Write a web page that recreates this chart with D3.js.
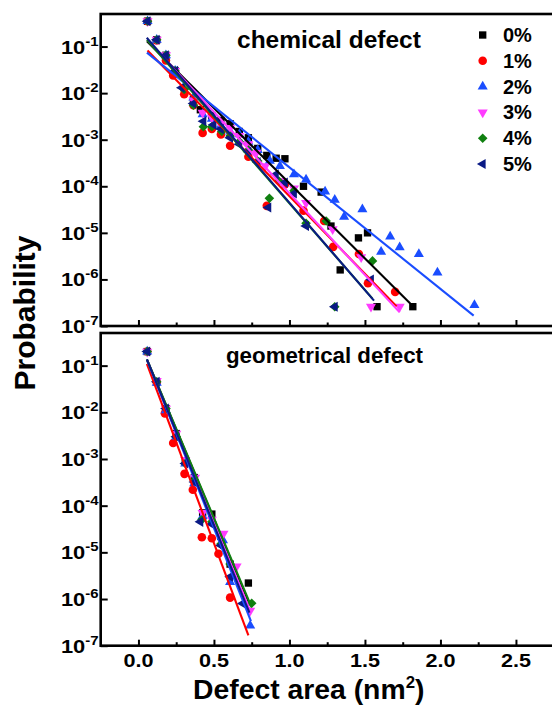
<!DOCTYPE html>
<html>
<head>
<meta charset="utf-8">
<script src="https://cdn.jsdelivr.net/npm/d3@7"></script>
<style>
  body { margin: 0; background: #fff; }
  svg { display: block; }
  text { font-family: "Liberation Sans", Arial, sans-serif; font-weight: bold; fill: #000; }
</style>
</head>
<body>
<svg id="chart" width="552" height="705"></svg>
<script>
// ---- series definitions ----
const seriesLabels = ["0%", "1%", "2%", "3%", "4%", "5%"];
const xTickValues = [0, 0.5, 1, 1.5, 2, 2.5];
const xTickLabels = ["0.0", "0.5", "1.0", "1.5", "2.0", "2.5"];
const xMinorTicks = [0.25, 0.75, 1.25, 1.75, 2.25];
const yTickExponents = [-1, -2, -3, -4, -5, -6, -7];

// chemical defect: [area (nm^2), probability]
const chem0 = [[0.06,0.35],[0.121,0.14],[0.182,0.065],[0.243,0.03],[0.303,0.013],[0.364,0.0072],[0.41,0.0044],[0.486,0.0033],[0.546,0.0026],[0.607,0.0022],[0.668,0.0015],[0.728,0.0011],[0.79,6.5e-4],[0.85,4.6e-4],[0.912,4.0e-4],[0.97,3.9e-4],[1.093,1.0e-4],[1.21,7.5e-5],[1.275,1.4e-5],[1.336,1.6e-6],[1.457,7.8e-6],[1.517,1.0e-5],[1.58,2.6e-7],[1.817,2.6e-7]];
const chem1 = [[0.06,0.35],[0.121,0.135],[0.182,0.05],[0.23,0.024],[0.303,0.0095],[0.364,0.0055],[0.425,0.0014],[0.486,0.0017],[0.546,0.0013],[0.607,7.4e-4],[0.728,4.3e-4],[0.85,3.8e-5],[0.97,1.1e-4],[1.093,3.0e-5],[1.23,1.8e-5],[1.29,5.0e-6],[1.46,3.5e-6],[1.52,8.3e-7],[1.70,5.4e-7]];
const chem2 = [[0.06,0.35],[0.121,0.14],[0.182,0.065],[0.243,0.03],[0.303,0.014],[0.364,0.008],[0.425,0.0035],[0.486,0.0028],[0.546,0.002],[0.607,0.0015],[0.668,0.0013],[0.728,9e-4],[0.79,6e-4],[0.87,3.5e-4],[0.937,2.7e-4],[1.03,1.8e-4],[1.11,1.4e-4],[1.236,7.7e-5],[1.30,5.1e-5],[1.362,2.2e-5],[1.483,3.2e-5],[1.607,3.9e-6],[1.667,8.3e-6],[1.73,4.9e-6],[1.857,3.5e-6],[1.98,1.4e-6],[2.225,2.8e-7]];
const chem3 = [[0.06,0.35],[0.121,0.14],[0.182,0.065],[0.243,0.03],[0.303,0.013],[0.364,0.007],[0.425,0.0038],[0.486,0.003],[0.546,0.0021],[0.607,0.0018],[0.668,0.0012],[0.728,8e-4],[0.78,5.2e-4],[0.84,2.7e-4],[0.945,1.3e-4],[1.03,9e-5],[1.11,4.4e-5],[1.286,1.2e-5],[1.475,3.0e-6],[1.54,2.6e-7],[1.73,2.6e-7]];
const chem4 = [[0.06,0.35],[0.121,0.14],[0.182,0.065],[0.243,0.03],[0.303,0.012],[0.364,0.0055],[0.43,0.0019],[0.486,0.0019],[0.552,0.0015],[0.607,0.0012],[0.668,9e-4],[0.728,6e-4],[0.79,3.5e-4],[0.867,5.5e-5],[0.93,1.3e-4],[1.03,8e-5],[1.11,1.6e-5],[1.243,1.8e-5],[1.30,2.6e-7],[1.55,2.5e-6]];
const chem5 = [[0.06,0.35],[0.121,0.14],[0.182,0.065],[0.243,0.03],[0.287,0.013],[0.364,0.006],[0.43,0.0025],[0.497,0.0021],[0.546,0.0017],[0.607,0.0011],[0.668,8e-4],[0.728,5.5e-4],[0.79,3.3e-4],[0.86,3.5e-5],[0.91,1.8e-4],[0.97,1.2e-4],[1.03,7e-5],[1.11,1.4e-5],[1.30,2.6e-7],[1.54,1.0e-6]];

// geometrical defect: [area (nm^2), probability]
const geo0 = [[0.058,0.2],[0.121,0.045],[0.182,0.012],[0.25,0.0035],[0.31,9e-4],[0.37,4e-4],[0.425,7e-5],[0.486,6.6e-5],[0.546,2.2e-5],[0.607,5.6e-6],[0.728,2.2e-6]];
const geo1 = [[0.058,0.2],[0.121,0.044],[0.175,0.0095],[0.23,0.0022],[0.305,4.8e-4],[0.36,2.2e-4],[0.42,2.1e-5],[0.486,2.0e-5],[0.53,9.3e-6],[0.607,1.07e-6]];
const geo2 = [[0.058,0.2],[0.121,0.043],[0.182,0.011],[0.25,0.003],[0.31,8e-4],[0.37,3e-4],[0.425,6e-5],[0.486,4.5e-5],[0.56,1.8e-5],[0.607,2.3e-6],[0.74,2.7e-7]];
const geo3 = [[0.058,0.2],[0.121,0.047],[0.182,0.012],[0.25,0.0035],[0.31,9.5e-4],[0.375,4e-4],[0.425,7e-5],[0.486,5e-5],[0.563,2.5e-5],[0.65,5e-6],[0.74,5.6e-7]];
const geo4 = [[0.058,0.2],[0.121,0.045],[0.182,0.012],[0.25,0.003],[0.31,8e-4],[0.37,3.5e-4],[0.42,5e-5],[0.486,4.5e-5],[0.546,1.5e-5],[0.607,5.6e-6],[0.75,8.1e-7]];
const geo5 = [[0.058,0.2],[0.121,0.045],[0.182,0.012],[0.25,0.003],[0.31,8e-4],[0.37,3.2e-4],[0.41,4.5e-5],[0.486,4e-5],[0.546,1.4e-5],[0.607,3e-6],[0.69,8e-7]];

// exponential fits: log10(P) = intercept + slope * area, drawn over [from, to]
const chemFitIntercept = [-0.705, -0.884, -0.984, -0.653, -0.647, -0.604];
const chemFitSlope     = [-3.23, -3.33, -2.61, -3.50, -3.72, -3.75];
const chemFitFrom      = [0.056, 0.06, 0.056, 0.06, 0.056, 0.055];
const chemFitTo        = [1.80, 1.71, 2.22, 1.73, 1.55, 1.56];

const geoFitIntercept = [-0.44, -0.475, -0.415, -0.43, -0.44, -0.42];
const geoFitSlope     = [-7.7, -8.66, -8.13, -7.87, -7.65, -7.99];
const geoFitFrom      = [0.056, 0.056, 0.056, 0.056, 0.056, 0.056];
const geoFitTo        = [0.73, 0.728, 0.745, 0.745, 0.75, 0.735];

// ---- styling ----
const colors = ["#000000", "#ff0000", "#1a4dff", "#ff3cff", "#108010", "#0a1a85"];
const shapeOf = [
  { type: d3.symbolSquare, size: 54, rot: 0 },
  { type: d3.symbolCircle, size: 58, rot: 0 },
  { type: d3.symbolTriangle, size: 44, rot: 0 },
  { type: d3.symbolTriangle, size: 44, rot: 180 },
  { type: d3.symbolSquare, size: 46, rot: 45 },
  { type: d3.symbolTriangle, size: 44, rot: -90 }
];

const svg = d3.select("#chart");
const left = 100.7, right = 553.7;
const x = d3.scaleLinear().domain([-0.25, 2.75]).range([left, right]);

const panels = [
  { top: 14, bottom: 326, title: "chemical defect", titleX: 237, titleY: 48, titleSize: 24.5,
    series: [chem0, chem1, chem2, chem3, chem4, chem5],
    fit: [chemFitIntercept, chemFitSlope, chemFitFrom, chemFitTo], legend: true, xLabels: false },
  { top: 333, bottom: 645.7, title: "geometrical defect", titleX: 226, titleY: 363, titleSize: 22.3,
    series: [geo0, geo1, geo2, geo3, geo4, geo5],
    fit: [geoFitIntercept, geoFitSlope, geoFitFrom, geoFitTo], legend: false, xLabels: true }
];

const symbolPath = i => d3.symbol().type(shapeOf[i].type).size(shapeOf[i].size)();

panels.forEach(p => {
  const y = d3.scaleLog().domain([1e-7, 0.5]).range([p.bottom, p.top]);
  const g = svg.append("g");

  // markers
  p.series.forEach((pts, i) => {
    g.append("g").selectAll("path").data(pts).join("path")
      .attr("d", symbolPath(i))
      .attr("fill", colors[i])
      .attr("transform", d => `translate(${x(d[0])},${y(d[1])}) rotate(${shapeOf[i].rot})`);
  });

  // fit lines
  const [fa, fb, f0, f1] = p.fit;
  p.series.forEach((pts, i) => {
    const ends = [f0[i], f1[i]].map(a => [a, Math.pow(10, fa[i] + fb[i] * a)]);
    g.append("path")
      .attr("d", d3.line().x(d => x(d[0])).y(d => y(d[1]))(ends))
      .attr("fill", "none").attr("stroke", colors[i]).attr("stroke-width", 2.1);
  });

  // axes (ticks pointing inward)
  const xAxis = g.append("g").attr("transform", `translate(0,${p.bottom})`)
    .call(d3.axisBottom(x).tickValues(xTickValues).tickSize(-6).tickFormat(""));
  const xMinor = g.append("g").attr("transform", `translate(0,${p.bottom})`)
    .call(d3.axisBottom(x).tickValues(xMinorTicks).tickSize(-3.5).tickFormat(""));
  const yAxis = g.append("g").attr("transform", `translate(${left},0)`)
    .call(d3.axisLeft(y).tickValues(yTickExponents.map(e => Math.pow(10, e))).tickSize(-7).tickFormat(""));
  [xAxis, xMinor, yAxis].forEach(a => {
    a.select(".domain").remove();
    a.selectAll(".tick line").attr("stroke", "#000").attr("stroke-width", 2);
  });

  // frame
  g.append("rect").attr("x", left).attr("y", p.top)
    .attr("width", right - left).attr("height", p.bottom - p.top)
    .attr("fill", "none").attr("stroke", "#000").attr("stroke-width", 2.6);

  // y tick labels 10^n (slightly widened glyphs)
  yTickExponents.forEach(e => {
    const t = g.append("text")
      .attr("transform", `translate(98.5,${y(Math.pow(10, e)) + 7}) scale(1.15,1)`)
      .attr("text-anchor", "end").attr("font-size", 19);
    t.append("tspan").text("10");
    t.append("tspan").attr("dy", -8).attr("font-size", 13).text("-" + Math.abs(e));
  });

  if (p.xLabels) {
    xTickValues.forEach((v, k) => {
      g.append("text")
        .attr("transform", `translate(${x(v)},${p.bottom + 21}) scale(1.2,1)`)
        .attr("text-anchor", "middle").attr("font-size", 18).text(xTickLabels[k]);
    });
  }

  g.append("text").attr("x", p.titleX).attr("y", p.titleY)
    .attr("font-size", p.titleSize).text(p.title);

  if (p.legend) {
    seriesLabels.forEach((lab, i) => {
      const ly = 35 + i * 25.8;
      g.append("path").attr("d", symbolPath(i)).attr("fill", colors[i])
        .attr("transform", `translate(482.7,${ly}) rotate(${shapeOf[i].rot})`);
      g.append("text").attr("x", 503).attr("y", ly + 7).attr("font-size", 20).text(lab);
    });
  }
});

// axis titles
const xt = svg.append("text").attr("transform", "translate(193,699) scale(1.05,1)").attr("font-size", 27);
xt.append("tspan").text("Defect area (nm");
xt.append("tspan").attr("dy", -11).attr("font-size", 16).text("2");
xt.append("tspan").attr("dy", 11).text(")");

svg.append("text").attr("transform", "translate(35,313) rotate(-90)")
  .attr("text-anchor", "middle").attr("font-size", 30).text("Probability");
</script>
</body>
</html>
